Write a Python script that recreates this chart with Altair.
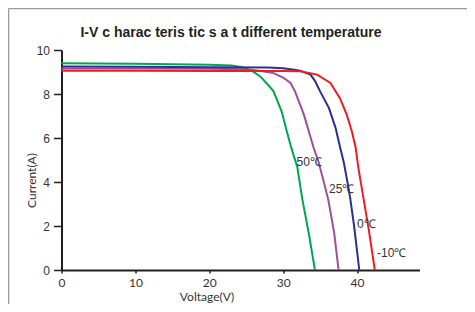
import altair as alt
import pandas as pd

# ---- data ----
title_text = ["I-V c harac teris tic s a t different temperature"]
temps = ["50℃", "25℃", "0℃", "-10℃"]
colors = ["#00a651", "#9e4f9b", "#2b3190", "#ee1d23"]

v_50 = [0, 10, 20, 23, 24.5, 25.8, 26.9, 28.0, 28.7, 29.8, 30.5, 31.1, 31.9, 32.6, 33.5, 34.3]
i_50 = [9.40, 9.37, 9.33, 9.29, 9.22, 9.05, 8.80, 8.40, 8.12, 7.20, 6.30, 5.55, 4.70, 3.20, 1.60, 0.0]

v_25 = [0, 10, 20, 25, 27, 28.7, 30.0, 31.0, 31.6, 32.8, 34.1, 34.8, 35.5, 36.1, 36.9, 37.5]
i_25 = [9.16, 9.16, 9.15, 9.12, 9.05, 8.95, 8.75, 8.50, 8.12, 7.06, 5.58, 4.90, 4.00, 3.20, 1.70, 0.0]

v_0 = [0, 10, 20, 28, 30, 31.5, 32.3, 33.7, 34.3, 35.0, 36.2, 37.1, 37.7, 38.2, 38.7, 39.1, 39.6, 40.3]
i_0 = [9.25, 9.24, 9.22, 9.20, 9.17, 9.10, 9.06, 8.88, 8.60, 8.12, 7.36, 6.45, 5.58, 4.90, 4.00, 3.20, 2.00, 0.0]

v_m10 = [0, 10, 20, 30, 32.3, 34.6, 36.4, 37.7, 38.6, 39.3, 39.8, 40.2, 40.9, 41.6, 42.4]
i_m10 = [9.06, 9.06, 9.05, 9.04, 9.03, 8.88, 8.50, 7.80, 7.06, 6.30, 5.58, 4.60, 3.20, 1.80, 0.0]

label_v = [31.8, 36.2, 40.0, 42.7]
label_i = [4.9, 3.68, 2.09, 0.77]

x_ticks = [0, 5, 10, 15, 20, 25, 30, 35, 40, 45]
y_ticks = [0, 1, 2, 3, 4, 5, 6, 7, 8, 9, 10]

# ---- build tables ----
rows = []
for t, vs, is_ in zip(temps, [v_50, v_25, v_0, v_m10], [i_50, i_25, i_0, i_m10]):
    for k, (v, i) in enumerate(zip(vs, is_)):
        rows.append({"temp": t, "V": v, "I": i, "k": k})
curves = pd.DataFrame(rows)
labels = pd.DataFrame({"temp": temps, "V": label_v, "I": label_i})

xs = alt.Scale(domain=[0, 48.45], nice=False, zero=False)
ys = alt.Scale(domain=[0, 10], nice=False)

lines = alt.Chart(curves).mark_line(strokeWidth=2, clip=False).encode(
    x=alt.X("V:Q", scale=xs, axis=alt.Axis(
        values=x_ticks,
        labelExpr="datum.value % 10 == 0 ? datum.label : ''",
        title="Voltage(V)", titleX=145, titleY=26, titleBaseline="middle",
        titleFont="Lato", titleFontSize=12, titleFontWeight="normal", titleColor="#333333",
        labelFont="Lato", labelFontSize=12, labelColor="#333333", labelPadding=4,
        domainColor="#231f20", domainWidth=2, tickColor="#231f20", tickWidth=1.5,
        tickSize=3, grid=False, labelFlush=False)),
    y=alt.Y("I:Q", scale=ys, axis=alt.Axis(
        values=y_ticks,
        labelExpr="datum.value % 2 == 0 ? datum.label : ''",
        title="Current(A)", titleX=-30, titleY=130, titleBaseline="middle",
        titleFont="Lato", titleFontSize=12, titleFontWeight="normal", titleColor="#333333",
        labelFont="Liberation Sans", labelFontSize=12, labelColor="#333333", labelPadding=4,
        domainColor="#231f20", domainWidth=2, tickColor="#231f20", tickWidth=1.5,
        tickSize={"condition": {"test": "datum.value % 2 == 0", "value": 8}, "value": 4},
        grid=False, labelFlush=False)),
    color=alt.Color("temp:N", scale=alt.Scale(domain=temps, range=colors), legend=None),
    order="k:Q",
)

texts = alt.Chart(labels).mark_text(
    align="left", baseline="middle", font="Liberation Sans", fontSize=12, color="#333333"
).encode(x=alt.X("V:Q", scale=xs), y=alt.Y("I:Q", scale=ys), text="temp:N")

title_mark = alt.Chart(pd.DataFrame({"t": title_text})).mark_text(
    align="center", baseline="alphabetic", font="Liberation Sans", fontSize=14,
    fontWeight="bold", color="#231f20"
).encode(x=alt.value(169.5), y=alt.value(-13), text="t:N")

frame_df = pd.DataFrame({"a": [0]})
frame_top = alt.Chart(frame_df).mark_rule(color="#9a9a9a", strokeWidth=1.5).encode(
    x=alt.value(-53), x2=alt.value(414), y=alt.value(-41.5))
frame_left = alt.Chart(frame_df).mark_rule(color="#9a9a9a", strokeWidth=1.5).encode(
    x=alt.value(-53), y=alt.value(-41.5), y2=alt.value(254))

chart = alt.layer(frame_top, frame_left, lines, texts, title_mark).properties(
    width=358, height=220,
    autosize=alt.AutoSizeParams(type="none"),
    padding={"left": 53.5, "top": 42, "right": 47, "bottom": 34},
).configure_view(stroke=None)

chart.save("out.html", embed_options={"renderer": "svg", "actions": False})
